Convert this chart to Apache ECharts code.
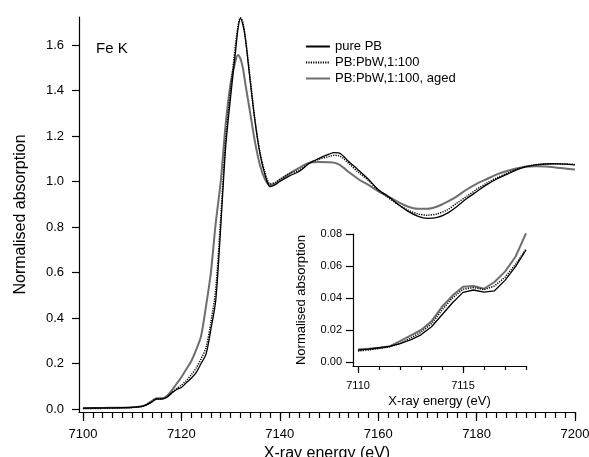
<!DOCTYPE html>
<html>
<head>
<meta charset="utf-8">
<script src="https://cdn.jsdelivr.net/npm/echarts@6/dist/echarts.min.js"></script>
<style>html,body{margin:0;padding:0;background:#fff}#c{width:589px;height:457px}</style>
</head>
<body>
<div id="c"></div>
<script>
// ---- main panel data ----
const energy = [7100, 7104, 7108, 7110, 7112, 7113, 7114, 7115, 7116, 7117, 7118, 7119, 7120, 7121, 7122, 7123, 7124, 7125, 7126, 7127, 7128, 7129, 7130, 7131, 7131.5, 7132, 7132.5, 7133, 7134, 7135, 7136, 7137, 7138, 7139, 7140, 7142, 7144, 7146, 7148, 7150, 7151, 7152, 7153, 7154, 7156, 7158, 7160, 7162, 7164, 7166, 7168, 7170, 7172, 7174, 7176, 7178, 7180, 7182, 7184, 7186, 7188, 7190, 7192, 7194, 7196, 7198, 7200];
const purePB = [0.004, 0.005, 0.006, 0.0075, 0.012, 0.019, 0.031, 0.044, 0.044, 0.051, 0.07, 0.085, 0.095, 0.115, 0.135, 0.16, 0.2, 0.24, 0.35, 0.48, 0.8, 1.15, 1.37, 1.57, 1.67, 1.717, 1.69, 1.63, 1.44, 1.26, 1.12, 1.03, 0.978, 0.985, 1.0, 1.025, 1.045, 1.08, 1.102, 1.12, 1.127, 1.126, 1.11, 1.088, 1.05, 1.01, 0.965, 0.935, 0.9, 0.87, 0.848, 0.838, 0.842, 0.86, 0.89, 0.925, 0.955, 0.985, 1.01, 1.03, 1.05, 1.065, 1.073, 1.077, 1.078, 1.076, 1.073];
const pbPbW = [0.002, 0.003, 0.005, 0.0068, 0.011, 0.019, 0.032, 0.045, 0.045, 0.053, 0.07, 0.09, 0.105, 0.125, 0.15, 0.18, 0.22, 0.27, 0.38, 0.53, 0.84, 1.18, 1.4, 1.6, 1.68, 1.72, 1.70, 1.635, 1.45, 1.265, 1.125, 1.04, 0.99, 0.995, 1.01, 1.035, 1.05, 1.08, 1.098, 1.11, 1.115, 1.113, 1.1, 1.08, 1.04, 1.005, 0.962, 0.93, 0.9, 0.875, 0.858, 0.852, 0.858, 0.875, 0.905, 0.935, 0.965, 0.992, 1.015, 1.035, 1.053, 1.066, 1.074, 1.077, 1.078, 1.077, 1.075];
const pbPbWAged = [0.004, 0.005, 0.006, 0.008, 0.0125, 0.021, 0.035, 0.047, 0.047, 0.0565, 0.08, 0.11, 0.14, 0.175, 0.21, 0.26, 0.32, 0.45, 0.6, 0.82, 1.0, 1.25, 1.43, 1.53, 1.556, 1.54, 1.5, 1.43, 1.3, 1.17, 1.07, 1.01, 0.985, 0.99, 1.005, 1.035, 1.06, 1.083, 1.086, 1.085, 1.083, 1.075, 1.06, 1.042, 1.01, 0.985, 0.958, 0.935, 0.91, 0.89, 0.88, 0.88, 0.89, 0.91, 0.935, 0.965, 0.99, 1.01, 1.03, 1.045, 1.057, 1.065, 1.067, 1.066, 1.062, 1.057, 1.053];

// ---- inset data ----
const insetEnergy = [7110, 7110.5, 7111, 7111.5, 7112, 7112.5, 7113, 7113.5, 7114, 7114.5, 7115, 7115.5, 7116, 7116.5, 7117, 7117.5, 7118];
const insetPure = [0.0075, 0.008, 0.0089, 0.0098, 0.0115, 0.0138, 0.017, 0.022, 0.0295, 0.037, 0.0435, 0.045, 0.0437, 0.0445, 0.051, 0.0596, 0.07];
const insetPbW = [0.0068, 0.0075, 0.0085, 0.0095, 0.0115, 0.015, 0.0185, 0.024, 0.0325, 0.04, 0.0455, 0.0465, 0.0452, 0.0475, 0.053, 0.061, 0.0705];
const insetAged = [0.0078, 0.0083, 0.0088, 0.0098, 0.013, 0.0165, 0.02, 0.0255, 0.0345, 0.0415, 0.047, 0.0475, 0.0458, 0.05, 0.0565, 0.0658, 0.0804];

// ---- tick labels ----
const mainXLabels = [7100, 7120, 7140, 7160, 7180, 7200];
const mainYLabels = [0.0, 0.2, 0.4, 0.6, 0.8, 1.0, 1.2, 1.4, 1.6];
const insetXLabels = [7110, 7115];
const insetYLabels = [0.00, 0.02, 0.04, 0.06, 0.08];

const names = ['pure PB', 'PB:PbW,1:100', 'PB:PbW,1:100, aged'];
const FONT = '"Liberation Sans", Arial, Helvetica, sans-serif';
const GRAY = '#6e6e6e';

const mainMinor = [];
for (let v = 7100; v <= 7200; v += 2) mainMinor.push(v);
const insetMinor = [];
for (let v = 7110; v <= 7118; v += 1) insetMinor.push(v);

const zip = (xs, ys) => xs.map((x, i) => [x, ys[i]]);

const chart = echarts.init(document.getElementById('c'), null, {renderer: 'canvas'});

const axisLineStyle = {color: '#000', width: 1.2};
const lbl = (size) => ({color: '#000', fontFamily: FONT, fontSize: size});
const plain = v => String(v);

chart.setOption({
  animation: false,
  backgroundColor: '#fff',
  title: {
    text: 'Fe K', left: 91, top: 36,
    textStyle: {fontFamily: FONT, fontSize: 15, fontWeight: 'normal', color: '#000'}
  },
  legend: {
    data: names,
    orient: 'vertical',
    left: 300, top: 35,
    itemWidth: 24, itemHeight: 10, itemGap: 3,
    itemStyle: {opacity: 0},
    textStyle: {fontFamily: FONT, fontSize: 13, color: '#000'},
    selectedMode: false
  },
  grid: [
    {left: 79, right: 14, top: 17, bottom: 45, outerBoundsMode: 'none', containLabel: false},
    {left: 353, right: 63, top: 234, bottom: 91, outerBoundsMode: 'none', containLabel: false}
  ],
  xAxis: [
    {
      type: 'value', gridIndex: 0, position: 'bottom', min: 7099.2, max: 7200,
      name: 'X-ray energy (eV)', nameLocation: 'middle', nameGap: 32,
      nameTextStyle: lbl(16),
      axisLine: {show: true, onZero: false, lineStyle: axisLineStyle},
      axisTick: {show: true, customValues: mainMinor, length: 6, lineStyle: axisLineStyle},
      axisLabel: {customValues: mainXLabels, margin: 16, formatter: plain, ...lbl(13)},
      splitLine: {show: false}
    },
    {
      type: 'value', gridIndex: 0, position: 'bottom', min: 7099.2, max: 7200,
      axisLine: {show: false, onZero: false},
      axisTick: {show: true, customValues: mainXLabels, length: 9, lineStyle: axisLineStyle},
      axisLabel: {show: false},
      splitLine: {show: false}
    },
    {
      type: 'value', gridIndex: 1, position: 'bottom', min: 7109.76, max: 7118,
      name: 'X-ray energy (eV)', nameLocation: 'middle', nameGap: 29,
      nameTextStyle: lbl(13),
      axisLine: {show: true, onZero: false, lineStyle: axisLineStyle},
      axisTick: {show: true, customValues: insetMinor, length: 4, lineStyle: axisLineStyle},
      axisLabel: {customValues: insetXLabels, margin: 14, formatter: plain, ...lbl(11)},
      splitLine: {show: false}
    },
    {
      type: 'value', gridIndex: 1, position: 'bottom', min: 7109.76, max: 7118,
      axisLine: {show: false, onZero: false},
      axisTick: {show: true, customValues: insetXLabels, length: 7, lineStyle: axisLineStyle},
      axisLabel: {show: false},
      splitLine: {show: false}
    }
  ],
  yAxis: [
    {
      type: 'value', gridIndex: 0, min: -0.013, max: 1.723,
      name: 'Normalised absorption', nameLocation: 'middle', nameGap: 50,
      nameTextStyle: lbl(16),
      axisLine: {show: true, onZero: false, lineStyle: axisLineStyle},
      axisTick: {show: true, customValues: mainYLabels, length: 7, lineStyle: axisLineStyle},
      axisLabel: {customValues: mainYLabels, margin: 15, formatter: v => v.toFixed(1), ...lbl(13)},
      splitLine: {show: false}
    },
    {
      type: 'value', gridIndex: 1, min: -0.0025, max: 0.08,
      name: 'Normalised absorption', nameLocation: 'middle', nameGap: 45,
      nameTextStyle: lbl(13),
      axisLine: {show: true, onZero: false, lineStyle: axisLineStyle},
      axisTick: {show: true, customValues: insetYLabels, length: 7, lineStyle: axisLineStyle},
      axisLabel: {customValues: insetYLabels, margin: 11, formatter: v => v.toFixed(2), ...lbl(11)},
      splitLine: {show: false}
    }
  ],
  series: [
    {name: names[2], type: 'line', xAxisIndex: 0, yAxisIndex: 0, data: zip(energy, pbPbWAged), showSymbol: false, symbol: 'none', smooth: 0.3, z: 1,
      lineStyle: {color: GRAY, width: 2}, itemStyle: {color: GRAY}},
    {name: names[1], type: 'line', xAxisIndex: 0, yAxisIndex: 0, data: zip(energy, pbPbW), showSymbol: false, symbol: 'none', smooth: 0.3, z: 2,
      lineStyle: {color: '#000', width: 1.5, type: [1.2, 1.2]}, itemStyle: {color: '#000'}},
    {name: names[0], type: 'line', xAxisIndex: 0, yAxisIndex: 0, data: zip(energy, purePB), showSymbol: false, symbol: 'none', smooth: 0.3, z: 3,
      lineStyle: {color: '#000', width: 1.3}, itemStyle: {color: '#000'}},
    {name: names[2], type: 'line', xAxisIndex: 2, yAxisIndex: 1, data: zip(insetEnergy, insetAged), showSymbol: false, symbol: 'none', z: 1,
      lineStyle: {color: GRAY, width: 2}, itemStyle: {color: GRAY}},
    {name: names[1], type: 'line', xAxisIndex: 2, yAxisIndex: 1, data: zip(insetEnergy, insetPbW), showSymbol: false, symbol: 'none', z: 2,
      lineStyle: {color: '#000', width: 1.5, type: [1.2, 1.2]}, itemStyle: {color: '#000'}},
    {name: names[0], type: 'line', xAxisIndex: 2, yAxisIndex: 1, data: zip(insetEnergy, insetPure), showSymbol: false, symbol: 'none', z: 3,
      lineStyle: {color: '#000', width: 1.3}, itemStyle: {color: '#000'}}
  ]
});
</script>
</body>
</html>
